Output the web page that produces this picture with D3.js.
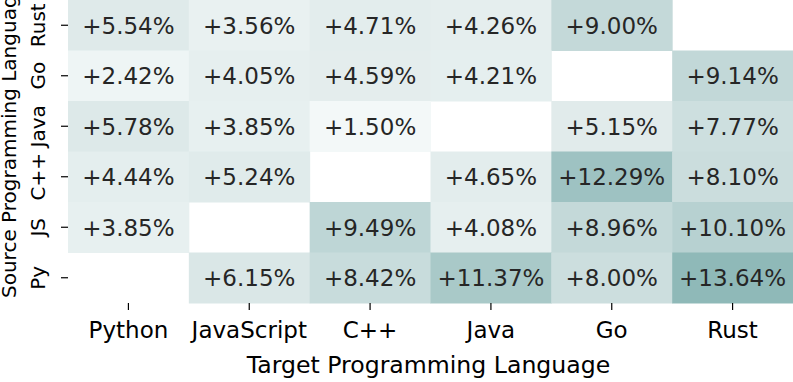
<!DOCTYPE html>
<html>
<head>
<meta charset="utf-8">
<script src="https://cdn.jsdelivr.net/npm/d3@7"></script>
<style>
  body { margin: 0; background: #fff; }
  svg { display: block; font-family: "DejaVu Sans", sans-serif; }
</style>
</head>
<body>
<svg id="chart" width="793" height="382"></svg>
<script>
// source languages (rows, top to bottom) and target languages (columns)
const sources = ['Rust', 'Go', 'Java', 'C++', 'JS', 'Py'];
const targets = ['Python', 'JavaScript', 'C++', 'Java', 'Go', 'Rust'];

// improvement per source row, null on the diagonal
const rustRow = [5.54, 3.56, 4.71, 4.26, 9.00, null];
const goRow   = [2.42, 4.05, 4.59, 4.21, null, 9.14];
const javaRow = [5.78, 3.85, 1.50, null, 5.15, 7.77];
const cppRow  = [4.44, 5.24, null, 4.65, 12.29, 8.10];
const jsRow   = [3.85, null, 9.49, 4.08, 8.96, 10.10];
const pyRow   = [null, 6.15, 8.42, 11.37, 8.00, 13.64];

const rows = [rustRow, goRow, javaRow, cppRow, jsRow, pyRow];

const svg = d3.select('#chart');
const margin = { top: 0, right: 0, bottom: 79, left: 68 };
const width = svg.attr('width') - margin.left - margin.right;
const height = svg.attr('height') - margin.top - margin.bottom;
const g = svg.append('g').attr('transform', `translate(${margin.left},${margin.top})`);

// scales
const x = d3.scaleBand().domain(targets).range([0, width]);
const y = d3.scaleBand().domain(sources).range([0, height]);
const color = d3.scaleLinear()
  .domain([1.5, 5.5, 9.0, 13.64])
  .range(['#f3f8f8', '#dfeaea', '#c4d9d9', '#8fb9b8'])
  .clamp(true);

// flatten the rows into cells
const cells = [];
rows.forEach((vals, i) => {
  vals.forEach((v, j) => {
    if (v !== null) cells.push({ src: sources[i], tgt: targets[j], value: v });
  });
});

// cells
g.selectAll('.cell')
  .data(cells)
  .enter()
  .append('rect')
  .attr('class', 'cell')
  .attr('x', d => x(d.tgt))
  .attr('y', d => y(d.src))
  .attr('width', x.bandwidth() + 0.5)
  .attr('height', y.bandwidth() + 0.5)
  .attr('fill', d => color(d.value));

// annotations
g.selectAll('.label')
  .data(cells)
  .enter()
  .append('text')
  .attr('class', 'label')
  .attr('x', d => x(d.tgt) + x.bandwidth() / 2)
  .attr('y', d => y(d.src) + y.bandwidth() / 2)
  .attr('dy', '0.36em')
  .attr('text-anchor', 'middle')
  .style('font-size', '23px')
  .attr('fill', '#262626')
  .text(d => `+${d.value.toFixed(2)}%`);

// x axis
const xAxis = g.append('g')
  .attr('transform', `translate(0,${height})`)
  .call(d3.axisBottom(x).tickSize(7).tickPadding(12));
xAxis.select('.domain').remove();
xAxis.selectAll('.tick line').attr('stroke', '#000').attr('stroke-width', 1.2);
xAxis.selectAll('.tick text')
  .style('font-size', '23px')
  .style('font-family', '"DejaVu Sans", sans-serif')
  .attr('fill', '#000');

// y axis
const yAxis = g.append('g')
  .call(d3.axisLeft(y).tickSize(7).tickPadding(8));
yAxis.select('.domain').remove();
yAxis.selectAll('.tick line').attr('stroke', '#000').attr('stroke-width', 1.2);
yAxis.selectAll('.tick text')
  .style('font-size', '20px')
  .style('font-family', '"DejaVu Sans", sans-serif')
  .attr('fill', '#000')
  .attr('text-anchor', 'middle')
  .attr('transform', 'rotate(-90)')
  .attr('x', 0)
  .attr('y', -30)
  .attr('dy', '0.36em');

// axis titles
g.append('text')
  .attr('x', width / 2 - 2)
  .attr('y', height + 70)
  .attr('text-anchor', 'middle')
  .style('font-size', '23.6px')
  .attr('fill', '#000')
  .text('Target Programming Language');

g.append('text')
  .attr('transform', `translate(-52,298) rotate(-90)`)
  .attr('text-anchor', 'start')
  .style('font-size', '20px')
  .attr('fill', '#000')
  .text('Source Programming Language');
</script>
</body>
</html>
